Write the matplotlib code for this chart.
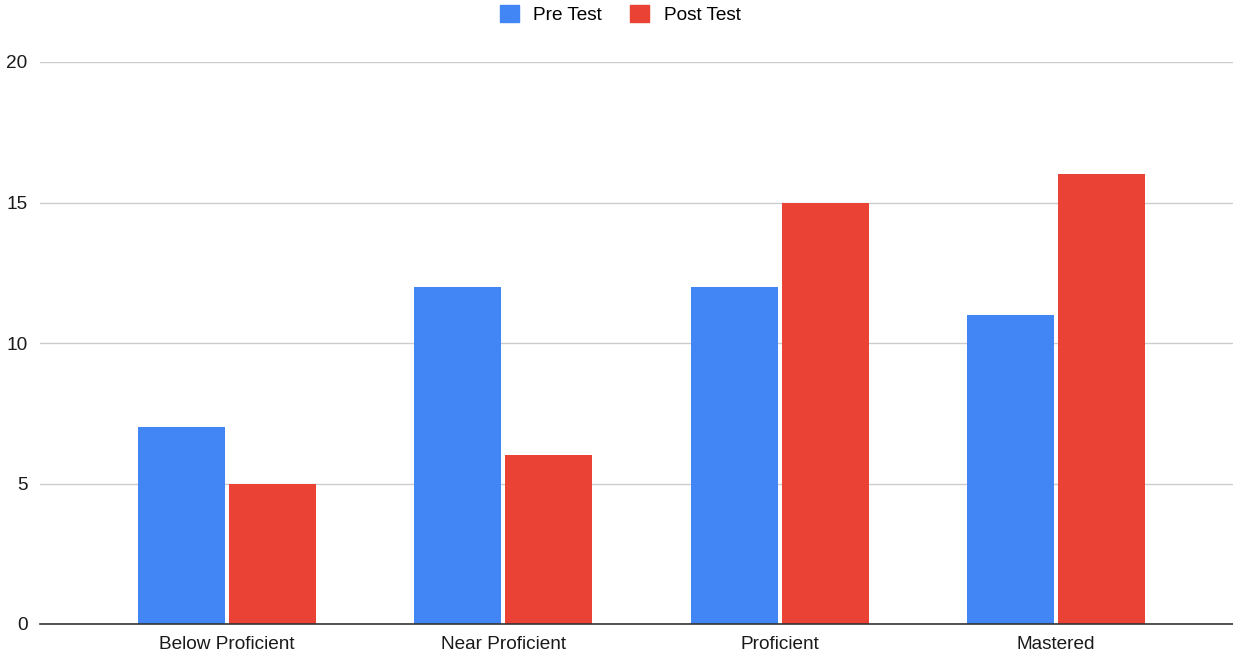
import numpy as np
import matplotlib
matplotlib.use("Agg")
import matplotlib.pyplot as plt
from matplotlib.patches import Patch

categories = ["Below Proficient", "Near Proficient", "Proficient", "Mastered"]
pre_test = [7, 12, 12, 11]
post_test = [5, 6, 15, 16]
series_names = ["Pre Test", "Post Test"]
y_ticks = [0, 5, 10, 15, 20]

BLUE, RED = "#4285F4", "#EA4335"
plt.rcParams["font.family"] = ["Liberation Sans", "DejaVu Sans"]
FS = 13.7

fig = plt.figure(figsize=(12.33, 6.54), dpi=100)
ax = fig.add_axes([40 / 1233, 30 / 654, 1 - 40 / 1233, (624 - 62) / 654])

x = np.arange(len(categories))
w, off = 0.315, 0.1646
ax.bar(x - off, pre_test, w, color=BLUE, zorder=3)
ax.bar(x + off, post_test, w, color=RED, zorder=3)

ax.set_xlim(-0.676, 3.64)
ax.set_ylim(0, 20)
ax.set_yticks(y_ticks)
ax.set_xticks(x)
ax.set_xticklabels(categories)
ax.tick_params(axis="both", length=0, labelsize=FS, colors="#1a1a1a")
ax.tick_params(axis="y", pad=9)
ax.tick_params(axis="x", pad=8.5)
ax.grid(axis="y", color="#CCCCCC", lw=1.0, zorder=0)
for s in ("top", "right", "left"):
    ax.spines[s].set_visible(False)
ax.spines["bottom"].set_color("#333333")
ax.spines["bottom"].set_linewidth(1.2)
ax.spines["bottom"].set_zorder(4)

handles = [Patch(color=BLUE), Patch(color=RED)]
fig.legend(handles, series_names, loc="upper center", bbox_to_anchor=(0.503, 1.019),
           ncol=2, frameon=False, fontsize=FS, handlelength=1.0, handleheight=1.0,
           handletextpad=0.75, columnspacing=1.5)

fig.savefig("out.png", dpi=100)
